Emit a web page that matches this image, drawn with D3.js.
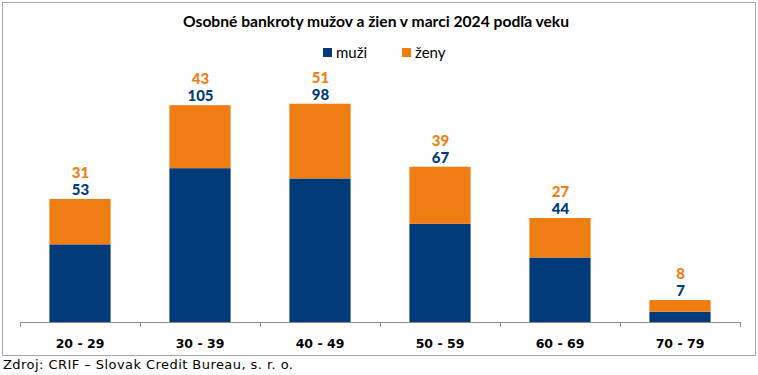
<!DOCTYPE html>
<html><head><meta charset="utf-8">
<script src="https://cdn.jsdelivr.net/npm/d3@7"></script>
<style>body{margin:0;background:#fff}svg{display:block}</style>
</head><body>
<svg id="c" width="758" height="375"></svg>
<script>
const categories = ["20 - 29","30 - 39","40 - 49","50 - 59","60 - 69","70 - 79"];
const muzi = [53,105,98,67,44,7];
const zeny = [31,43,51,39,27,8];
const seriesNames = ["muži","ženy"];
const colors = ["#003a79","#ef7d13"];
const title = "Osobné bankroty mužov a žien v marci 2024 podľa veku";
const source = "Zdroj: CRIF – Slovak Credit Bureau, s. r. o.";

const svg = d3.select("#c");
svg.append("rect").attr("x",2.5).attr("y",2.5).attr("width",753).attr("height",353)
  .attr("fill","#fff").attr("stroke","#a6a6a6").attr("stroke-width",1);

const x = d3.scaleBand().domain(categories).range([20,740]).paddingInner(0.49).paddingOuter(0.245);
const xb = d3.scaleBand().domain(categories).range([20,740]);
const y = d3.scaleLinear().domain([0,160]).range([322,87.6]);

const data = categories.map((c,i)=>({c, m:muzi[i], z:zeny[i]}));
const g = svg.append("g");
g.selectAll("rect.m").data(data).join("rect").attr("class","m")
  .attr("x",d=>x(d.c)).attr("width",x.bandwidth())
  .attr("y",d=>y(d.m)).attr("height",d=>y(0)-y(d.m)).attr("fill",colors[0]);
g.selectAll("rect.z").data(data).join("rect").attr("class","z")
  .attr("x",d=>x(d.c)).attr("width",x.bandwidth())
  .attr("y",d=>y(d.m+d.z)).attr("height",d=>y(d.m)-y(d.m+d.z)).attr("fill",colors[1]);

const lblFont = "Lato, 'Open Sans', sans-serif";
g.selectAll("text.m").data(data).join("text").attr("class","m")
  .attr("x",d=>xb(d.c)+xb.bandwidth()/2+0.5).attr("y",d=>y(d.m+d.z)-4)
  .attr("text-anchor","middle").attr("font-family",lblFont).attr("font-weight","900")
  .attr("font-size",15).attr("fill",colors[0]).text(d=>d.m);
g.selectAll("text.z").data(data).join("text").attr("class","z")
  .attr("x",d=>xb(d.c)+xb.bandwidth()/2+0.5).attr("y",d=>y(d.m+d.z)-21)
  .attr("text-anchor","middle").attr("font-family",lblFont).attr("font-weight","900")
  .attr("font-size",15).attr("fill",colors[1]).text(d=>d.z);

// axis
const ax = svg.append("g");
ax.append("line").attr("x1",20).attr("x2",740).attr("y1",322.5).attr("y2",322.5).attr("stroke","#8c8c8c");
const ticks = categories.map(c=>xb(c)).concat([740]);
ax.selectAll("line.t").data(ticks).join("line").attr("class","t")
  .attr("x1",d=>d+0.5).attr("x2",d=>d+0.5).attr("y1",322).attr("y2",327).attr("stroke","#8c8c8c");
ax.selectAll("text").data(categories).join("text")
  .attr("x",d=>xb(d)+xb.bandwidth()/2).attr("y",348)
  .attr("text-anchor","middle").attr("font-family","'DejaVu Sans', Verdana, sans-serif")
  .attr("font-weight","bold").attr("font-size",12.5).attr("fill","#000").text(d=>d);

// title
const t = svg.append("text").attr("x",376).attr("y",27).attr("text-anchor","middle")
  .attr("font-family",lblFont).attr("font-weight","bold").attr("font-size",15).attr("fill","#000").text(title);
t.attr("textLength",386).attr("lengthAdjust","spacingAndGlyphs");

// legend
const leg = svg.append("g");
const lx = [323,402];
seriesNames.forEach((n,i)=>{
  leg.append("rect").attr("x",lx[i]).attr("y",48).attr("width",9).attr("height",9).attr("fill",colors[i]);
  leg.append("text").attr("x",lx[i]+13).attr("y",58).attr("font-family",lblFont)
    .attr("font-size",15).attr("fill","#000").text(n);
});

// source
svg.append("text").attr("x",3).attr("y",369).attr("font-family","'DejaVu Sans', Verdana, sans-serif")
  .attr("font-size",13).attr("fill","#000").attr("textLength",290).attr("lengthAdjust","spacing").text(source);
</script>
</body></html>
